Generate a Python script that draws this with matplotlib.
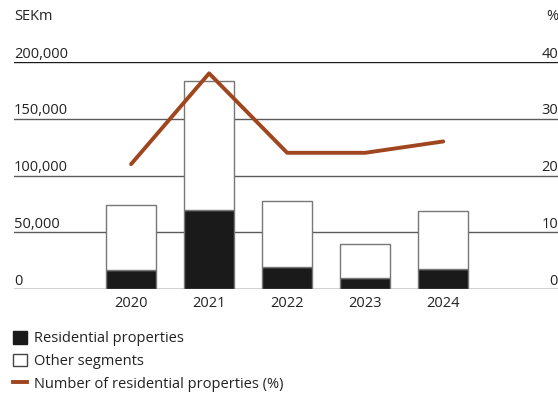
import matplotlib.pyplot as plt
from matplotlib.patches import Patch
from matplotlib.lines import Line2D

plt.rcParams['font.family'] = ['Open Sans', 'DejaVu Sans']

years = ['2020', '2021', '2022', '2023', '2024']
residential = [16700, 69600, 19400, 9700, 17600]
total = [74000, 183000, 77500, 39600, 68700]
other = [t - r for t, r in zip(total, residential)]
share_pct = [22, 38, 24, 24, 26]

left_ticks = [0, 50000, 100000, 150000, 200000]
left_labels = ['0', '50,000', '100,000', '150,000', '200,000']
right_labels = ['0', '10', '20', '30', '40']

line_col = '#A0461F'
text_col = '#222222'
fs = 10.5

fig = plt.figure(figsize=(5.58, 3.93), dpi=100)
ax = fig.add_axes([14 / 558, 1 - 289 / 393, 1 - 14 / 558, (289 - 62) / 393])
x = list(range(len(years)))

for yv in left_ticks:
    c = '#1a1a1a' if yv in (0, 200000) else '#5a5a5a'
    ax.axhline(yv, color=c, lw=1.0, zorder=1)

ax.bar(x, residential, width=0.64, color='#1a1a1a', edgecolor='#777777', lw=1.0, zorder=2)
ax.bar(x, other, bottom=residential, width=0.64, color='white', edgecolor='#777777', lw=1.0, zorder=2)

ax.set_xlim(-1.5, 5.47)
ax.set_ylim(0, 200000)
ax.set_xticks(x)
ax.set_xticklabels(years, fontsize=fs, color=text_col)
ax.tick_params(axis='x', length=0, pad=5)
ax.set_yticks([])
for s in ax.spines.values():
    s.set_visible(False)

# axis labels sit on top of the gridlines
for yv, lab in zip(left_ticks, left_labels):
    ax.text(-1.5, yv + 3800, lab, ha='left', va='baseline', fontsize=fs, color=text_col)
for yv, lab in zip(left_ticks, right_labels):
    ax.text(5.47, yv + 3800, lab, ha='right', va='baseline', fontsize=fs, color=text_col)
fig.text(14 / 558, 1 - 16 / 393, 'SEKm', ha='left', va='center', fontsize=fs, color=text_col)
fig.text(1.0, 1 - 16 / 393, '%', ha='right', va='center', fontsize=fs, color=text_col)

ax2 = ax.twinx()
ax2.set_ylim(0, 40)
ax2.plot(x, share_pct, color=line_col, lw=2.8, solid_capstyle='round', zorder=3)
ax2.set_yticks([])
for s in ax2.spines.values():
    s.set_visible(False)

handles = [
    Patch(facecolor='#1a1a1a', edgecolor='#1a1a1a'),
    Patch(facecolor='white', edgecolor='#444444'),
    Line2D([0], [0], color=line_col, lw=2.8),
]
labels = ['Residential properties', 'Other segments', 'Number of residential properties (%)']
fig.legend(handles, labels, loc='upper left', bbox_to_anchor=(0.0, 1 - 318 / 393),
           frameon=False, fontsize=fs, handlelength=0.95, handleheight=0.95,
           handletextpad=0.45, labelspacing=0.5, borderaxespad=0.5,
           labelcolor=text_col)

fig.savefig('out.png', dpi=100)
